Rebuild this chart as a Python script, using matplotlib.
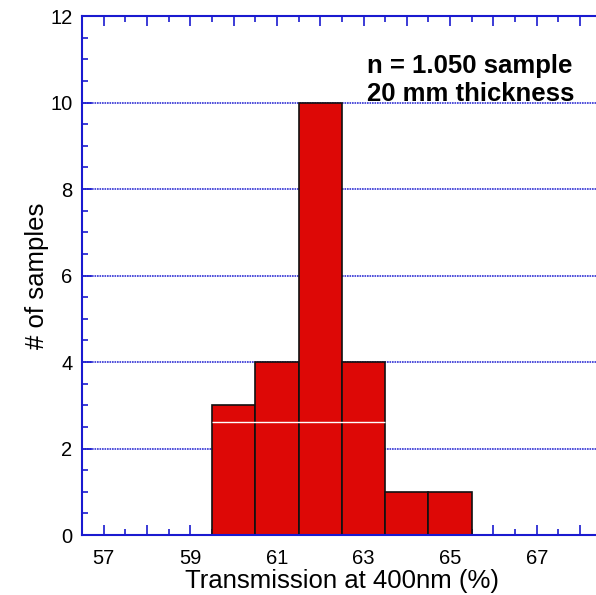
import matplotlib.pyplot as plt
import numpy as np

plt.rcParams['font.family'] = ['Liberation Sans', 'DejaVu Sans']

# histogram bins (left edges) and counts
bin_left = [59.5, 60.5, 61.5, 62.5, 63.5, 64.5]
counts = [3, 4, 10, 4, 1, 1]
bin_width = 1.0

blue = '#1a1ad0'
red = '#dd0806'

fig = plt.figure(figsize=(5.96, 5.95), dpi=100)
ax = fig.add_axes([0.1376, 0.1008, 0.872, 0.8723])

# grid lines behind the bars
for yv in [2, 4, 6, 8, 10]:
    ax.axhline(yv, color=blue, lw=1.2, ls=(0, (1, 0.5)), alpha=0.9, zorder=0)

ax.bar(bin_left, counts, width=bin_width, align='edge',
       color=red, edgecolor='#111111', linewidth=1.2, zorder=2)

# thin white streak across the first bars (as in the original)
ax.hlines(2.61, 59.5, 63.5, color='white', lw=1.0, zorder=3)

ax.set_xlim(56.5, 68.5)
ax.set_ylim(0, 12)

ax.set_xticks(np.arange(57, 69, 1))
ax.set_xticklabels(['57', '', '59', '', '61', '', '63', '', '65', '', '67', ''])
ax.set_xticks(np.arange(56.5, 68.6, 0.5), minor=True)
ax.set_yticks(np.arange(0, 13, 2))
ax.set_yticks(np.arange(0, 12.1, 0.5), minor=True)

ax.tick_params(which='both', direction='in', colors=blue, labelcolor='black',
               labelsize=14.5, top=True, right=False, width=1.2)
ax.tick_params(which='major', length=7)
ax.tick_params(which='minor', length=4)
ax.tick_params(axis='x', pad=10)
ax.tick_params(axis='y', pad=7)

for side in ['left', 'bottom', 'top']:
    ax.spines[side].set_color(blue)
    ax.spines[side].set_linewidth(1.5)
ax.spines['right'].set_visible(False)

ax.set_xlabel('Transmission at 400nm (%)', fontsize=18.5, labelpad=1)
ax.set_ylabel('# of samples', fontsize=18.5, labelpad=1)

ax.text(0.548, 0.877, 'n = 1.050 sample\n20 mm thickness', transform=ax.transAxes,
        fontsize=18.5, fontweight='bold', va='center', ha='left', linespacing=1.2)

fig.savefig('out.png', dpi=100)
